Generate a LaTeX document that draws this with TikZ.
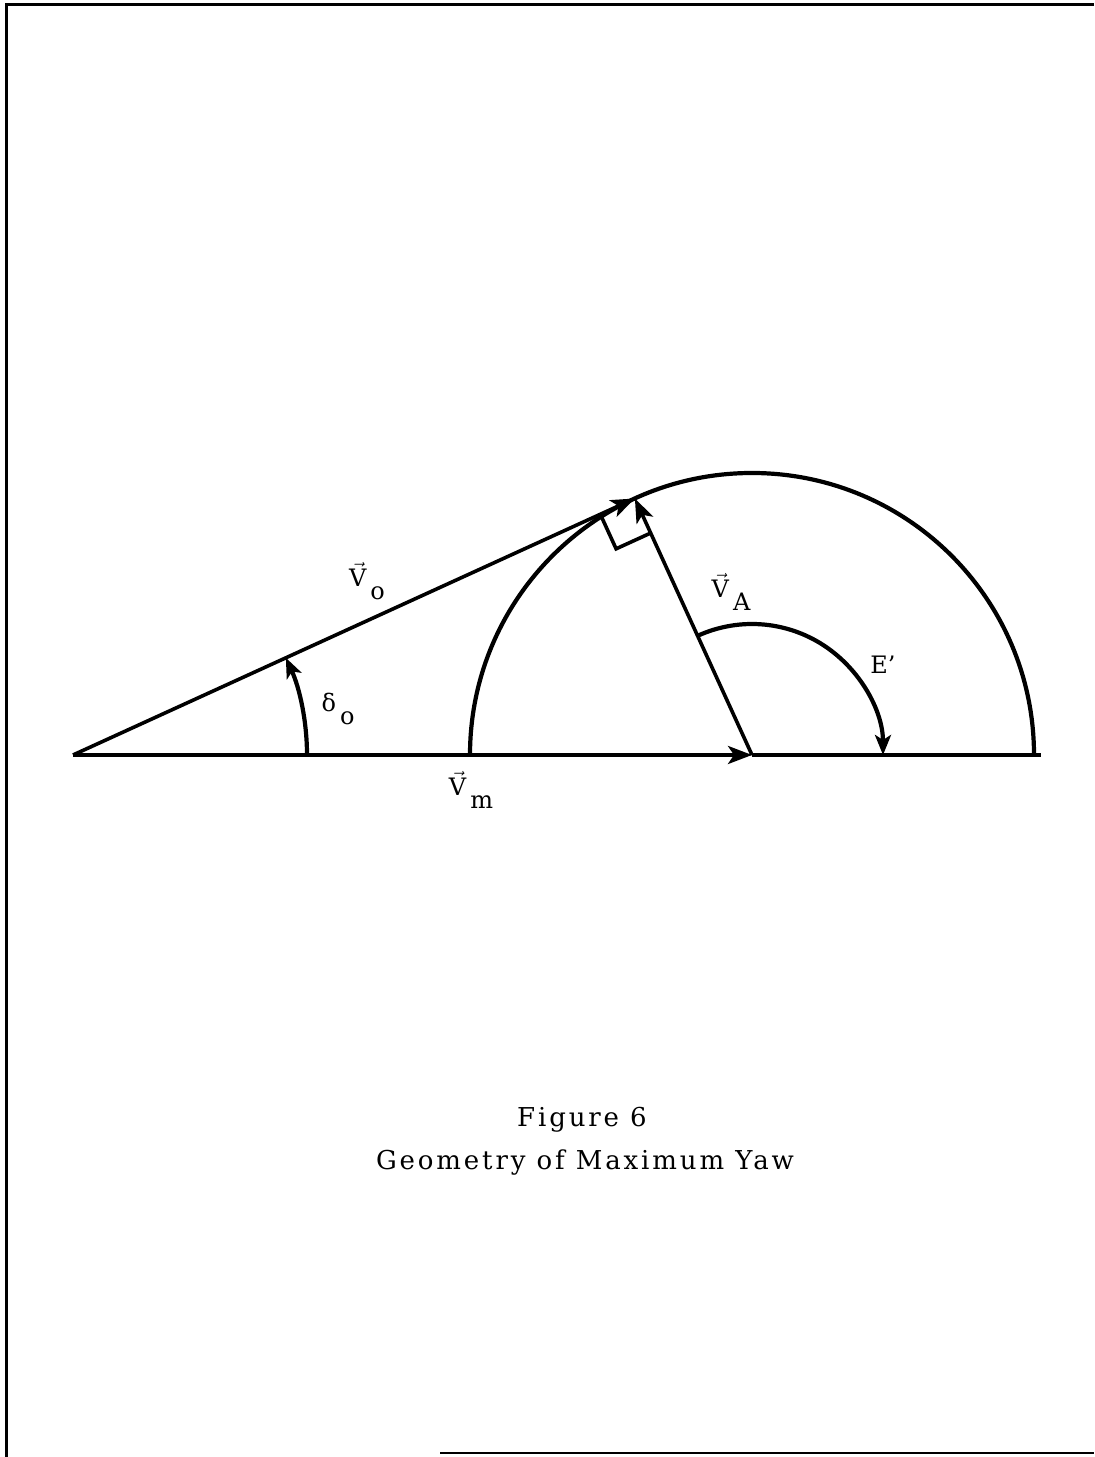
\documentclass[tikz,border=0pt]{standalone}
\usepackage{fontspec}
\setmainfont{DejaVu Serif}
\newfontfamily\capfont[LetterSpace=11]{DejaVu Serif}
\usetikzlibrary{arrows.meta, calc}
\tikzstyle{vec} = [line width=1.8pt, -{Stealth[length=12pt, width=9pt, inset=3pt]}]
\tikzstyle{swing} = [line width=2.1pt, -{Stealth[length=10pt, width=8pt, inset=2.5pt]}]
\tikzstyle{curve} = [line width=2.1pt]
\tikzstyle{frame} = [line width=1.5pt]
\tikzstyle{lbl} = [font=\fontsize{12}{14}\selectfont, inner sep=1pt]
\tikzstyle{figcap} = [font=\capfont\fontsize{13}{15}\selectfont, anchor=base]
\newcommand{\sublab}[2]{#1\kern2pt\raisebox{-1ex}{#2}}
\newcommand{\vecV}{$\vec{\mathrm{V}}$}

\begin{document}
\begin{tikzpicture}[x=0.5pt, y=0.5pt]
\useasboundingbox (0,0) rectangle (1094,1457);
% page frame
\draw[frame] (1094,1452) -- (6,1452) -- (6,0);
\draw[line width=1pt] (440,4) -- (1094,4);

% points of the figure
\coordinate (O) at (73,702);
\coordinate (C) at (752,702);
\coordinate (R) at (1041,702);
\coordinate (L) at ($(C)+(-282,0)$);
\coordinate (T) at ($(C)+(114.54:282)$);
\coordinate (d0) at ($(O)+(234,0)$);
\coordinate (e0) at ($(C)+(114.54:131)$);
\coordinate (q1) at ($(T)+(204.54:38)$);
\coordinate (q3) at ($(T)+(294.54:38)$);
\coordinate (q2) at ($(q1)+(294.54:38)$);

\draw[curve] (L) arc[start angle=180, end angle=0, radius=282];
\draw[vec] (O) -- (C);
\draw[line width=1.8pt] (C) -- (R);
\draw[vec] (O) -- (T);
\draw[vec] (C) -- (T);
\draw[line width=1.8pt] (q1) -- (q2) -- (q3);
\draw[swing] (d0) arc[start angle=0, end angle=24.54, radius=234];
\draw[swing] (e0) arc[start angle=114.54, end angle=0, radius=131];

\node (lVo) [lbl] at (367,876) {\sublab{\vecV}{o}};
\node (ld0) [lbl] at (338,748) {\sublab{δ}{o}};
\node (lVm) [lbl] at (471,667) {\sublab{\vecV}{m}};
\node (lVA) [lbl] at (731,865) {\sublab{\vecV}{A}};
\node (lE) [lbl] at (883,792) {E'};

\node (fig) [figcap] at (582,330) {Figure 6};
\node (title) [figcap] at (585,287) {Geometry of Maximum Yaw};
\end{tikzpicture}
\end{document}
